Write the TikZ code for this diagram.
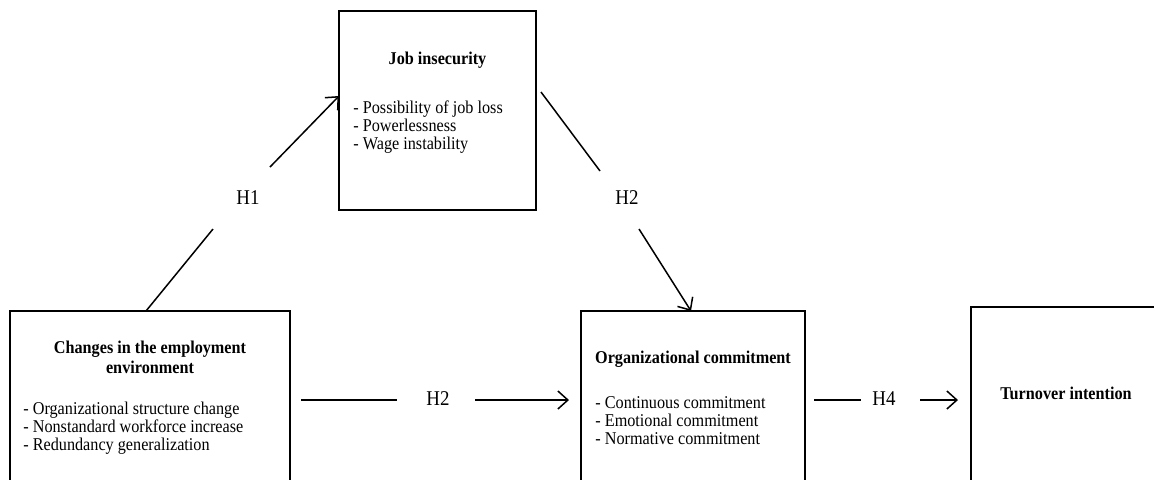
\documentclass[tikz,border=0pt]{standalone}
\usepackage{fontspec}
\setmainfont{Liberation Serif}[FakeStretch=0.9]
\usetikzlibrary{arrows.meta}
\begin{document}
\begin{tikzpicture}[x=0.5pt,y=-0.5pt,
  box/.style={draw, line width=0.75pt, inner sep=0, outer sep=0, anchor=north west},
  conn/.style={line width=0.75pt},
  arr/.style={conn, -{Straight Barb[length=5pt,width=9pt]}},
  hlab/.style={font=\fontsize{10.5}{12}\selectfont, inner sep=0},
  ttl/.style={font=\fontsize{9}{9}\selectfont\bfseries, inner sep=0, anchor=base},
  lst/.style={font=\fontsize{9}{9}\selectfont, inner sep=0, anchor=base west}]
\useasboundingbox (0,0) rectangle (1154,479);
\clip (0,0) rectangle (1154,479);
\fill[white] (0,0) rectangle (1154,479);

% boxes
\node[box, minimum width=98.5pt, minimum height=99.5pt] (job) at (339,11) {};
\node[box, minimum width=140pt, minimum height=120pt] (chg) at (10,311) {};
\node[box, minimum width=112pt, minimum height=120pt] (org) at (581,311) {};
\node[box, minimum width=130pt, minimum height=120pt] (turn) at (971,307) {};

% job insecurity text
\node[ttl] (jt) at (437.5,64) {Job insecurity};
\node[lst] (j1) at (353,113) {- Possibility of job loss};
\node[lst] (j2) at (353,131) {- Powerlessness};
\node[lst] (j3) at (353,149) {- Wage instability};

% changes text
\node[ttl] (ct1) at (150,353) {Changes in the employment};
\node[ttl] (ct2) at (150,373) {environment};
\node[lst] (c1) at (23,414) {- Organizational structure change};
\node[lst] (c2) at (23,432) {- Nonstandard workforce increase};
\node[lst] (c3) at (23,450) {- Redundancy generalization};

% organizational commitment text
\node[ttl] (ot) at (693,363) {Organizational commitment};
\node[lst] (o1) at (595,408) {- Continuous commitment};
\node[lst] (o2) at (595,426) {- Emotional commitment};
\node[lst] (o3) at (595,444) {- Normative commitment};

% turnover
\node[ttl] (tt) at (1066,399) {Turnover intention};

% hypothesis labels
\node[hlab] (H1) at (248,198) {H1};
\node[hlab] (H2a) at (627,198) {H2};
\node[hlab] (H2b) at (438,398.5) {H2};
\node[hlab] (H4) at (884,398.5) {H4};

% connector coordinates
\coordinate (a1) at (146,311);
\coordinate (a2) at (213,229);
\coordinate (a3) at (270,167);
\coordinate (a4) at (339,96);
\coordinate (b1) at (541,92);
\coordinate (b2) at (600,171);
\coordinate (b3) at (639,229);
\coordinate (b4) at (691,311);
\coordinate (c1s) at (301,400);
\coordinate (c1e) at (397,400);
\coordinate (c2s) at (475,400);
\coordinate (c2e) at (569,400);
\coordinate (d1s) at (814,400);
\coordinate (d1e) at (861,400);
\coordinate (d2s) at (920,400);
\coordinate (d2e) at (958,400);

\draw[conn] (a1) -- (a2);
\draw[arr] (a3) -- (a4);
\draw[conn] (b1) -- (b2);
\draw[arr] (b3) -- (b4);
\draw[conn] (c1s) -- (c1e);
\draw[arr] (c2s) -- (c2e);
\draw[conn] (d1s) -- (d1e);
\draw[arr] (d2s) -- (d2e);
\end{tikzpicture}
\end{document}
